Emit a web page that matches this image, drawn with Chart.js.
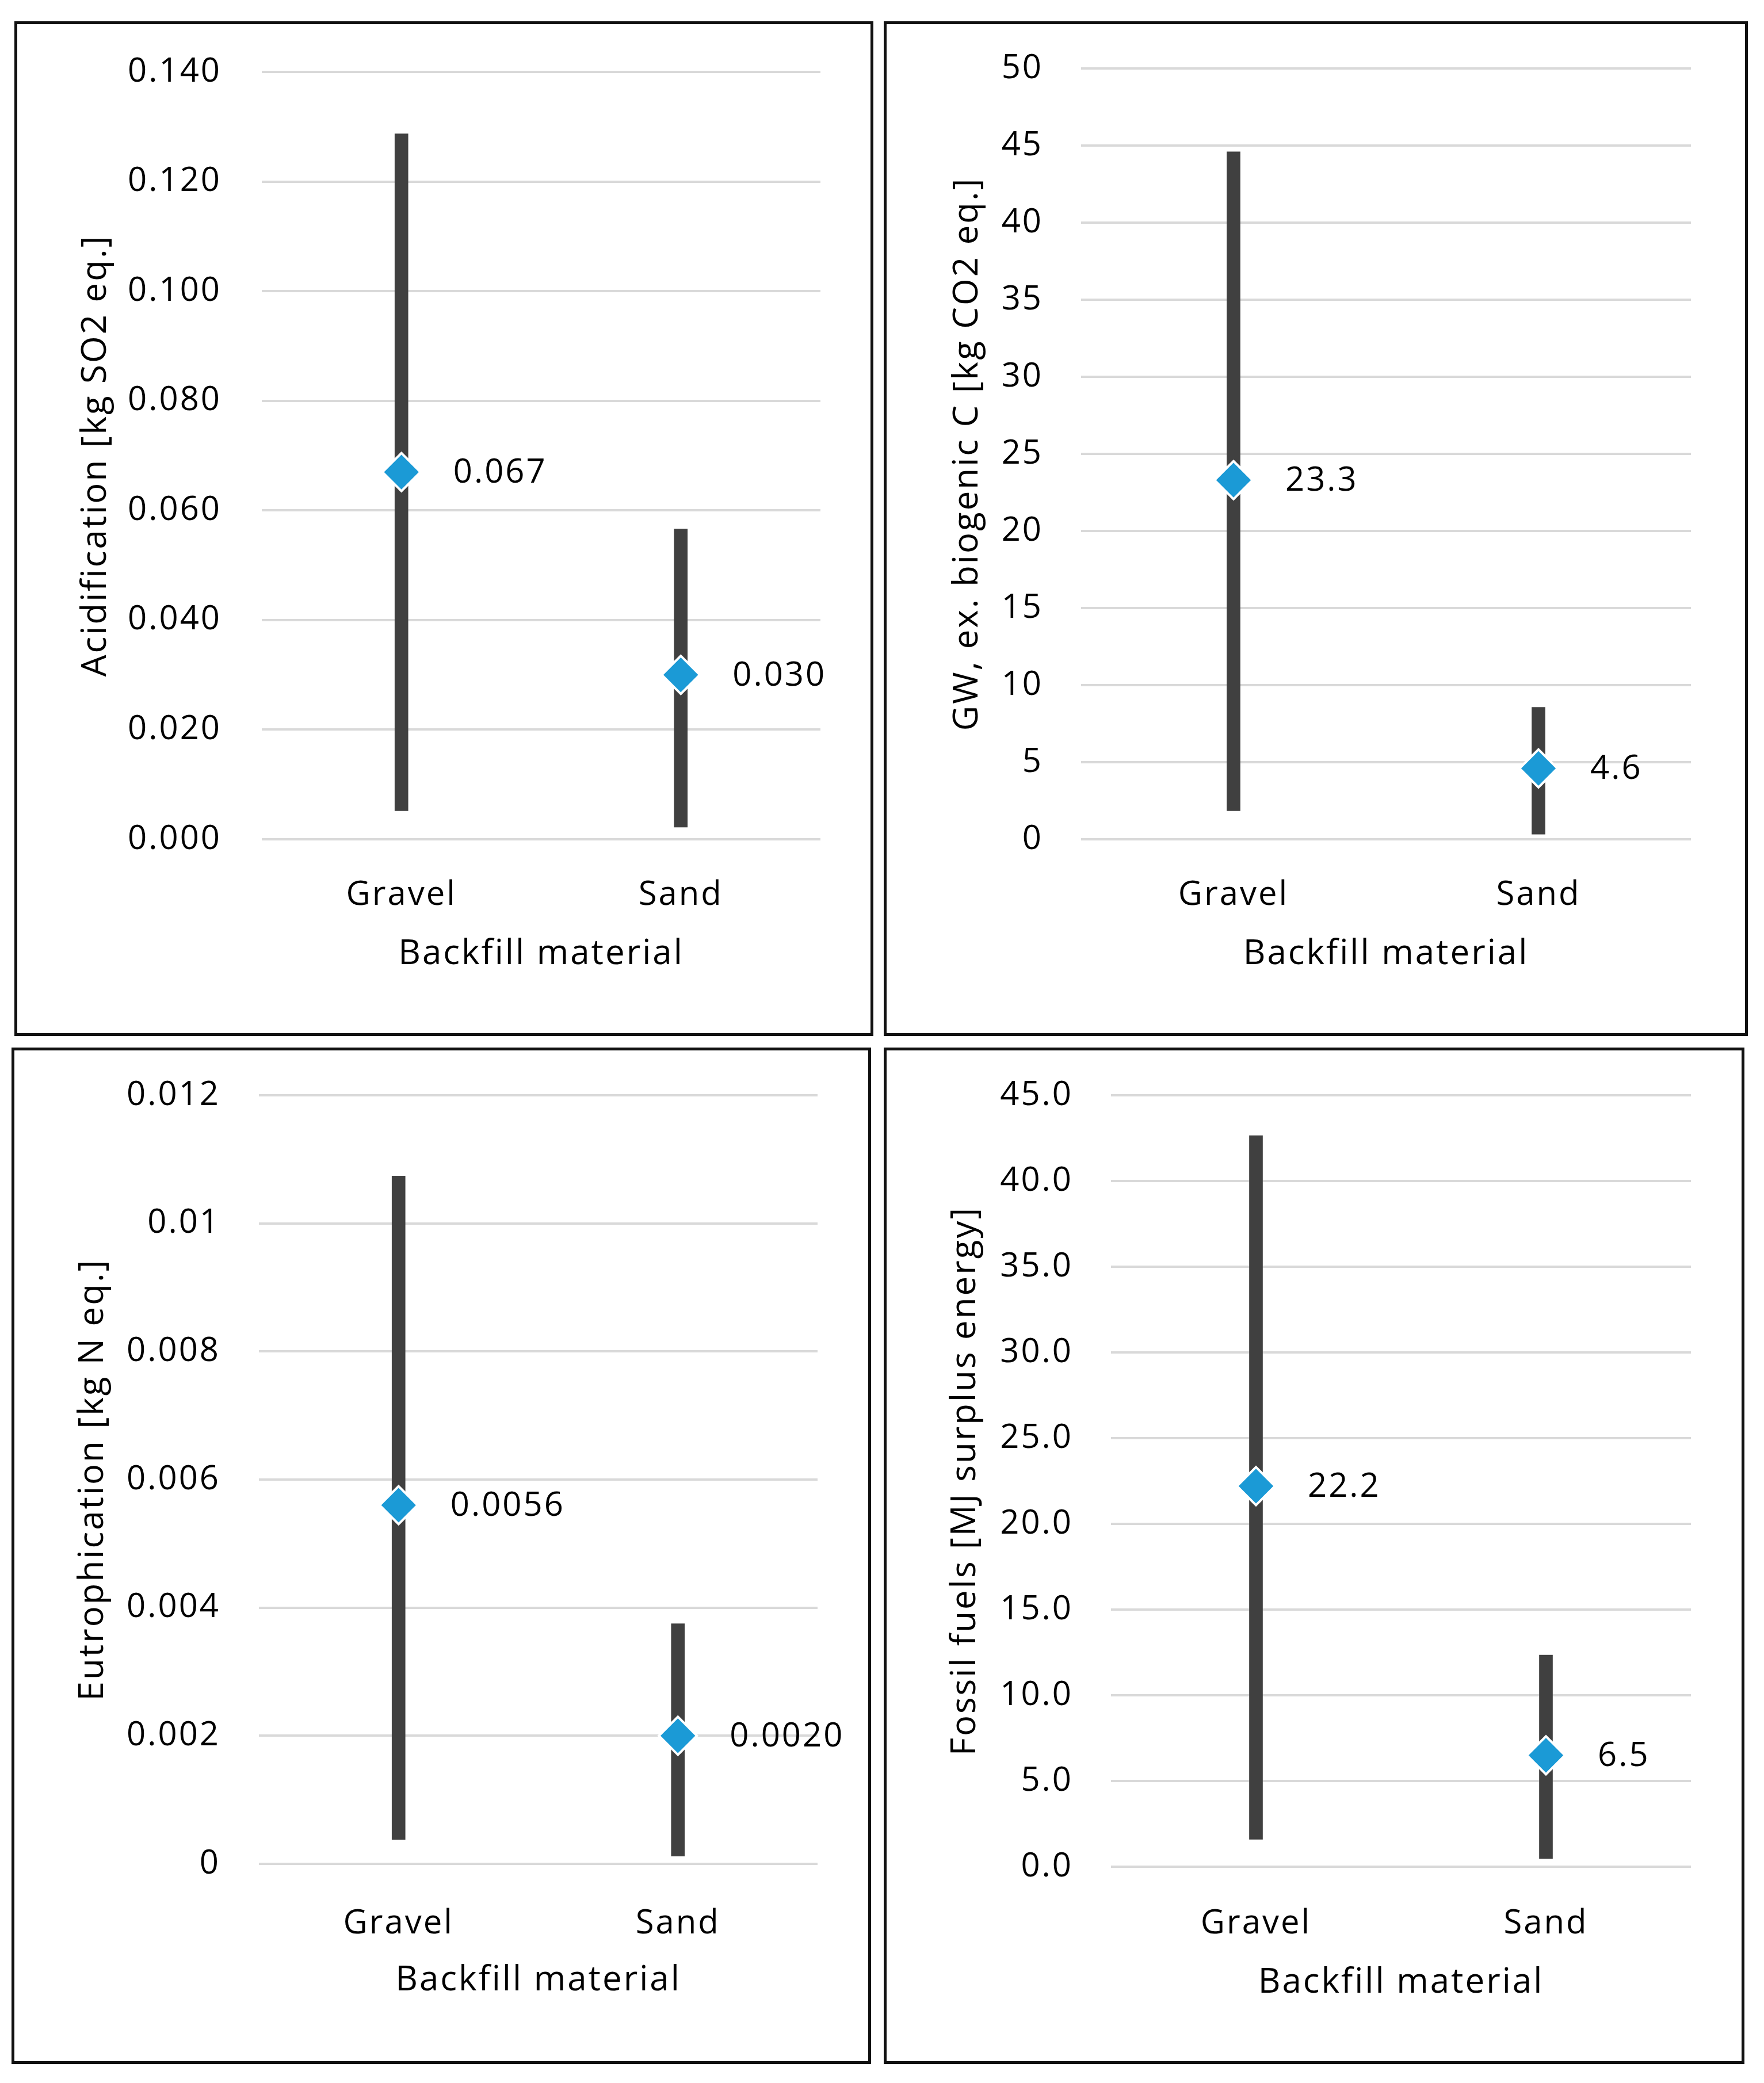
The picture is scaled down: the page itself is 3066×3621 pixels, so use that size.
<!DOCTYPE html>
<html>
<head>
<meta charset="utf-8">
<script src="https://cdn.jsdelivr.net/npm/chart.js@4.4.1/dist/chart.umd.min.js"></script>
<style>
  html, body { margin: 0; padding: 0; background: #fff; }
  body { width: 3066px; height: 3621px; position: relative; overflow: hidden; }
  .panel { position: absolute; box-sizing: border-box; border: 5px solid #111; background: #fff; }
  .panel canvas { display: block; }
</style>
</head>
<body>
<div class="panel" style="left:25px;top:37px;width:1493px;height:1764px"><canvas id="c1"></canvas></div>
<div class="panel" style="left:1536px;top:37px;width:1502px;height:1764px"><canvas id="c2"></canvas></div>
<div class="panel" style="left:20px;top:1821px;width:1494px;height:1767px"><canvas id="c3"></canvas></div>
<div class="panel" style="left:1536px;top:1821px;width:1496px;height:1767px"><canvas id="c4"></canvas></div>
<script>
'use strict';

var categories = ['Gravel', 'Sand'];

// min / max of each range, and the mean shown as a diamond
var acidRange = [[0.0052, 0.1287], [0.0022, 0.0566]];
var acidMean = [0.067, 0.030];
var gwRange = [[1.85, 44.6], [0.33, 8.56]];
var gwMean = [23.3, 4.6];
var eutroRange = [[0.00038, 0.01074], [0.00012, 0.00375]];
var eutroMean = [0.0056, 0.0020];
var fossilRange = [[1.6, 42.65], [0.47, 12.35]];
var fossilMean = [22.2, 6.5];

var FONT = '"Open Sans", "DejaVu Sans", sans-serif';
var BAR_COLOR = '#404040';
var DIAMOND_COLOR = '#1b9ad6';
var SPACING = '3px';

// the original text is a bit spread out
var spacing = {
	id: 'spacing',
	beforeLayout: function(chart) { chart.ctx.letterSpacing = SPACING; },
	beforeDraw: function(chart) { chart.ctx.letterSpacing = SPACING; }
};

// draws the value next to each diamond
var meanLabels = {
	id: 'meanLabels',
	afterDatasetsDraw: function(chart, args, opts) {
		var meta = chart.getDatasetMeta(1);
		var ctx = chart.ctx;
		ctx.save();
		ctx.font = '58px ' + FONT;
		ctx.fillStyle = '#000';
		ctx.textAlign = 'left';
		ctx.textBaseline = 'middle';
		meta.data.forEach(function(pt, i) {
			ctx.fillText(opts.texts[i], pt.x + 90, pt.y + 2);
		});
		ctx.restore();
	}
};

function makeChart(id, p) {
	var ctx = document.getElementById(id).getContext('2d');
	return new Chart(ctx, {
		type: 'bar',
		data: {
			labels: categories,
			datasets: [{
				type: 'bar',
				data: p.range,
				backgroundColor: BAR_COLOR,
				barThickness: 23,
				order: 1
			}, {
				type: 'line',
				data: p.mean,
				showLine: false,
				pointStyle: 'rectRot',
				pointRadius: 33,
				pointHoverRadius: 33,
				pointBackgroundColor: DIAMOND_COLOR,
				pointBorderColor: '#fff',
				pointBorderWidth: 4,
				order: 0
			}]
		},
		options: {
			responsive: true,
			maintainAspectRatio: false,
			devicePixelRatio: 1,
			animation: false,
			layout: { padding: { left: 0, right: p.rightPad, top: p.topPad, bottom: 0 } },
			plugins: {
				legend: { display: false },
				tooltip: { enabled: false },
				meanLabels: { texts: p.mean.map(function(v) { return v.toFixed(p.labelDecimals); }) }
			},
			scales: {
				x: {
					grid: { display: false },
					border: { display: false },
					ticks: { color: '#000', font: { family: FONT, size: 58 }, padding: p.xTickPad },
					title: {
						display: true,
						text: 'Backfill material',
						color: '#000',
						font: { family: FONT, size: 60 },
						padding: { top: 0, bottom: p.xTitlePad }
					},
					afterFit: function(scale) {
						scale.height = p.bottomArea;
						scale.paddingLeft = 0;
						scale.paddingRight = 0;
					}
				},
				y: {
					min: p.min,
					max: p.max,
					grid: { color: '#d9d9d9', lineWidth: 4, drawTicks: false },
					border: { display: false },
					ticks: {
						stepSize: p.step,
						color: '#000',
						font: { family: FONT, size: 58 },
						padding: p.yTickPad,
						callback: p.fmt
					},
					title: {
						display: true,
						text: p.title,
						color: '#000',
						font: { family: FONT, size: 60 },
						padding: { top: p.yTitlePad, bottom: 0 }
					},
					afterFit: function(scale) {
						scale.width = p.left;
						scale.paddingTop = 0;
						scale.paddingBottom = 0;
					}
				}
			}
		},
		plugins: [spacing, meanLabels]
	});
}

makeChart('c1', {
	range: acidRange, mean: acidMean, labelDecimals: 3,
	title: 'Acidification [kg SO2 eq.]',
	min: 0, max: 0.14, step: 0.02,
	fmt: function(v) { return v.toFixed(3); },
	left: 425, rightPad: 87, topPad: 83, bottomArea: 337,
	yTickPad: 70, yTitlePad: 101, xTickPad: 55, xTitlePad: 101
});

makeChart('c2', {
	range: gwRange, mean: gwMean, labelDecimals: 1,
	title: 'GW, ex. biogenic C [kg CO2 eq.]',
	min: 0, max: 50, step: 5,
	fmt: function(v) { return String(Math.round(v)); },
	left: 338, rightPad: 94, topPad: 77, bottomArea: 337,
	yTickPad: 66, yTitlePad: 105, xTickPad: 55, xTitlePad: 101
});

makeChart('c3', {
	range: eutroRange, mean: eutroMean, labelDecimals: 4,
	title: 'Eutrophication [kg N eq.]',
	min: 0, max: 0.012, step: 0.002,
	fmt: function(v) { return String(Number(v.toFixed(3))); },
	left: 425, rightPad: 88, topPad: 78, bottomArea: 343,
	yTickPad: 67, yTitlePad: 101, xTickPad: 62, xTitlePad: 104
});

makeChart('c4', {
	range: fossilRange, mean: fossilMean, labelDecimals: 1,
	title: 'Fossil fuels [MJ surplus energy]',
	min: 0, max: 45, step: 5,
	fmt: function(v) { return v.toFixed(1); },
	left: 390, rightPad: 88, topPad: 78, bottomArea: 338,
	yTickPad: 66, yTitlePad: 101, xTickPad: 57, xTitlePad: 100
});
</script>
</body>
</html>
